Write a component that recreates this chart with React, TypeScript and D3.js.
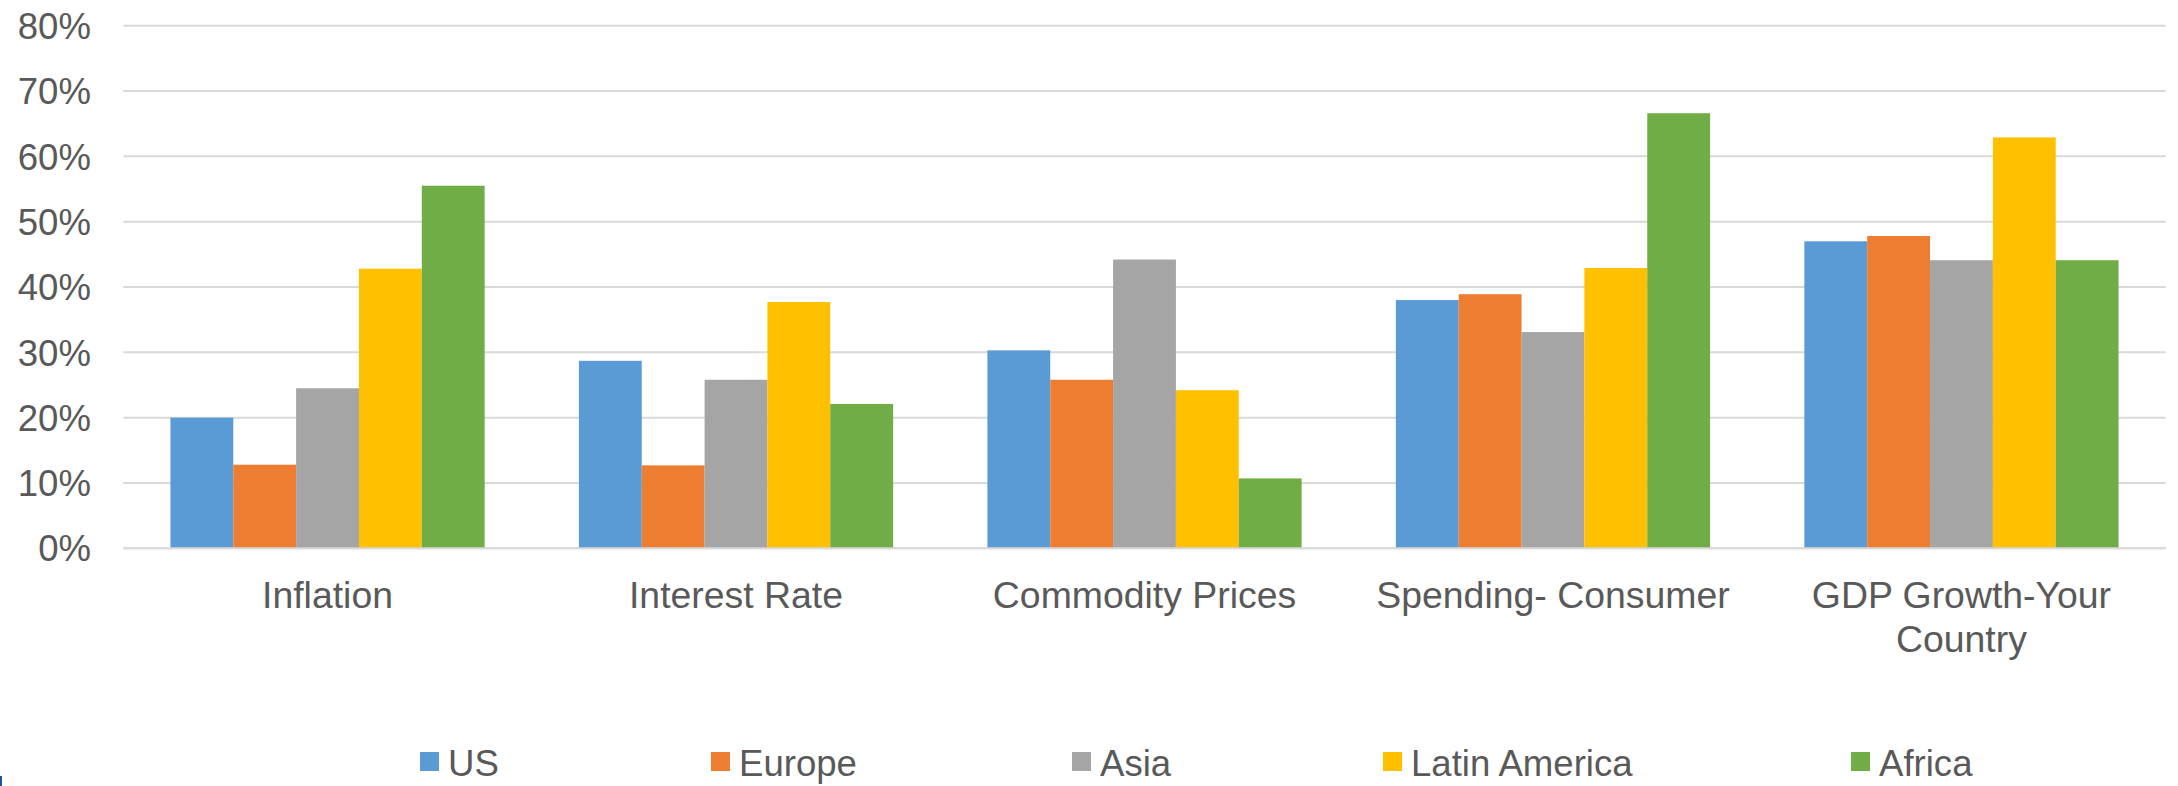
import React, { useMemo } from "react";
import * as d3 from "d3";

const categories = ["Inflation", "Interest Rate", "Commodity Prices", "Spending- Consumer", "GDP Growth-Your Country"];
const seriesNames = ["US", "Europe", "Asia", "Latin America", "Africa"];
const seriesColors = ["#5B9BD5", "#ED7D31", "#A5A5A5", "#FFC000", "#70AD47"];
const us = [0.200, 0.287, 0.303, 0.380, 0.470];
const europe = [0.128, 0.127, 0.258, 0.389, 0.478];
const asia = [0.245, 0.258, 0.442, 0.331, 0.441];
const latinAmerica = [0.428, 0.377, 0.242, 0.429, 0.629];
const africa = [0.555, 0.221, 0.107, 0.666, 0.441];
const yTicks = [0, 0.1, 0.2, 0.3, 0.4, 0.5, 0.6, 0.7, 0.8];

const seriesValues = [us, europe, asia, latinAmerica, africa];

const W = 2178;
const H = 786;
const FONT = "'Liberation Sans', Arial, Helvetica, sans-serif";
const FS = 36.6;
const FSX = 37.4;
const TEXT = "#595959";
const legendX = [420, 711, 1072, 1383, 1851];

function measure(text: string, fs: number): number {
  const c = document.createElement("canvas").getContext("2d");
  if (!c) return text.length * fs * 0.5;
  c.font = `${fs}px ${FONT}`;
  return c.measureText(text).width;
}

function wrap(text: string, maxW: number, fs: number): string[] {
  const words = text.split(" ");
  const lines: string[] = [];
  let cur = "";
  for (const w of words) {
    const t = cur ? cur + " " + w : w;
    if (cur && measure(t, fs) > maxW) {
      lines.push(cur);
      cur = w;
    } else cur = t;
  }
  if (cur) lines.push(cur);
  return lines;
}

export default function App() {
  const x0 = 123.3, x1 = 2165.7;
  const yTop = 25.7, yBottom = 548.3;

  const x = useMemo(
    () => d3.scaleBand<string>().domain(categories).range([x0, x1]).paddingInner(1.5 / 6.5).paddingOuter(0.75 / 6.5),
    []
  );
  const xs = useMemo(
    () => d3.scaleBand<string>().domain(seriesNames).range([0, x.bandwidth()]).padding(0),
    [x]
  );
  const y = useMemo(() => d3.scaleLinear().domain([0, 0.8]).range([yBottom, yTop]), []);
  const fmt = d3.format(".0%");
  const step = x.step();

  return (
    <svg
      width={W}
      height={H}
      style={{ position: "absolute", left: 0, top: 0, background: "#fff" }}
      fontFamily={FONT}
    >
      <rect x={0} y={0} width={W} height={H} fill="#fff" />
      {yTicks.map((t) => (
        <g key={t}>
          <line x1={x0} x2={x1} y1={y(t)} y2={y(t)} stroke="#D9D9D9" strokeWidth={2} />
          <text x={91} y={y(t)} dy="0.36em" textAnchor="end" fontSize={FS} fill={TEXT}>
            {fmt(t)}
          </text>
        </g>
      ))}
      {categories.map((c, ci) => (
        <g key={c} transform={`translate(${x(c)},0)`}>
          {seriesNames.map((s, si) => {
            const v = seriesValues[si][ci];
            return (
              <rect
                key={s}
                x={xs(s)}
                y={y(v)}
                width={xs.bandwidth()}
                height={y(0) - y(v)}
                fill={seriesColors[si]}
              />
            );
          })}
        </g>
      ))}
      <line x1={x0} x2={x1} y1={y(0)} y2={y(0)} stroke="#D9D9D9" strokeWidth={2} />
      {categories.map((c) => {
        const lines = wrap(c, step * 0.92, FSX);
        const cx = (x(c) as number) + x.bandwidth() / 2;
        return (
          <text key={c} x={cx} y={607.5} textAnchor="middle" fontSize={FSX} fill={TEXT}>
            {lines.map((l, i) => (
              <tspan key={i} x={cx} dy={i === 0 ? 0 : 44.5}>
                {l}
              </tspan>
            ))}
          </text>
        );
      })}
      {seriesNames.map((s, i) => (
        <g key={s}>
          <rect x={legendX[i]} y={752} width={19} height={19} fill={seriesColors[i]} />
          <text x={legendX[i] + 28} y={775.5} fontSize={FS} fill={TEXT}>
            {s}
          </text>
        </g>
      ))}
      <rect x={0} y={776} width={2} height={10} fill="#1F5597" />
    </svg>
  );
}
